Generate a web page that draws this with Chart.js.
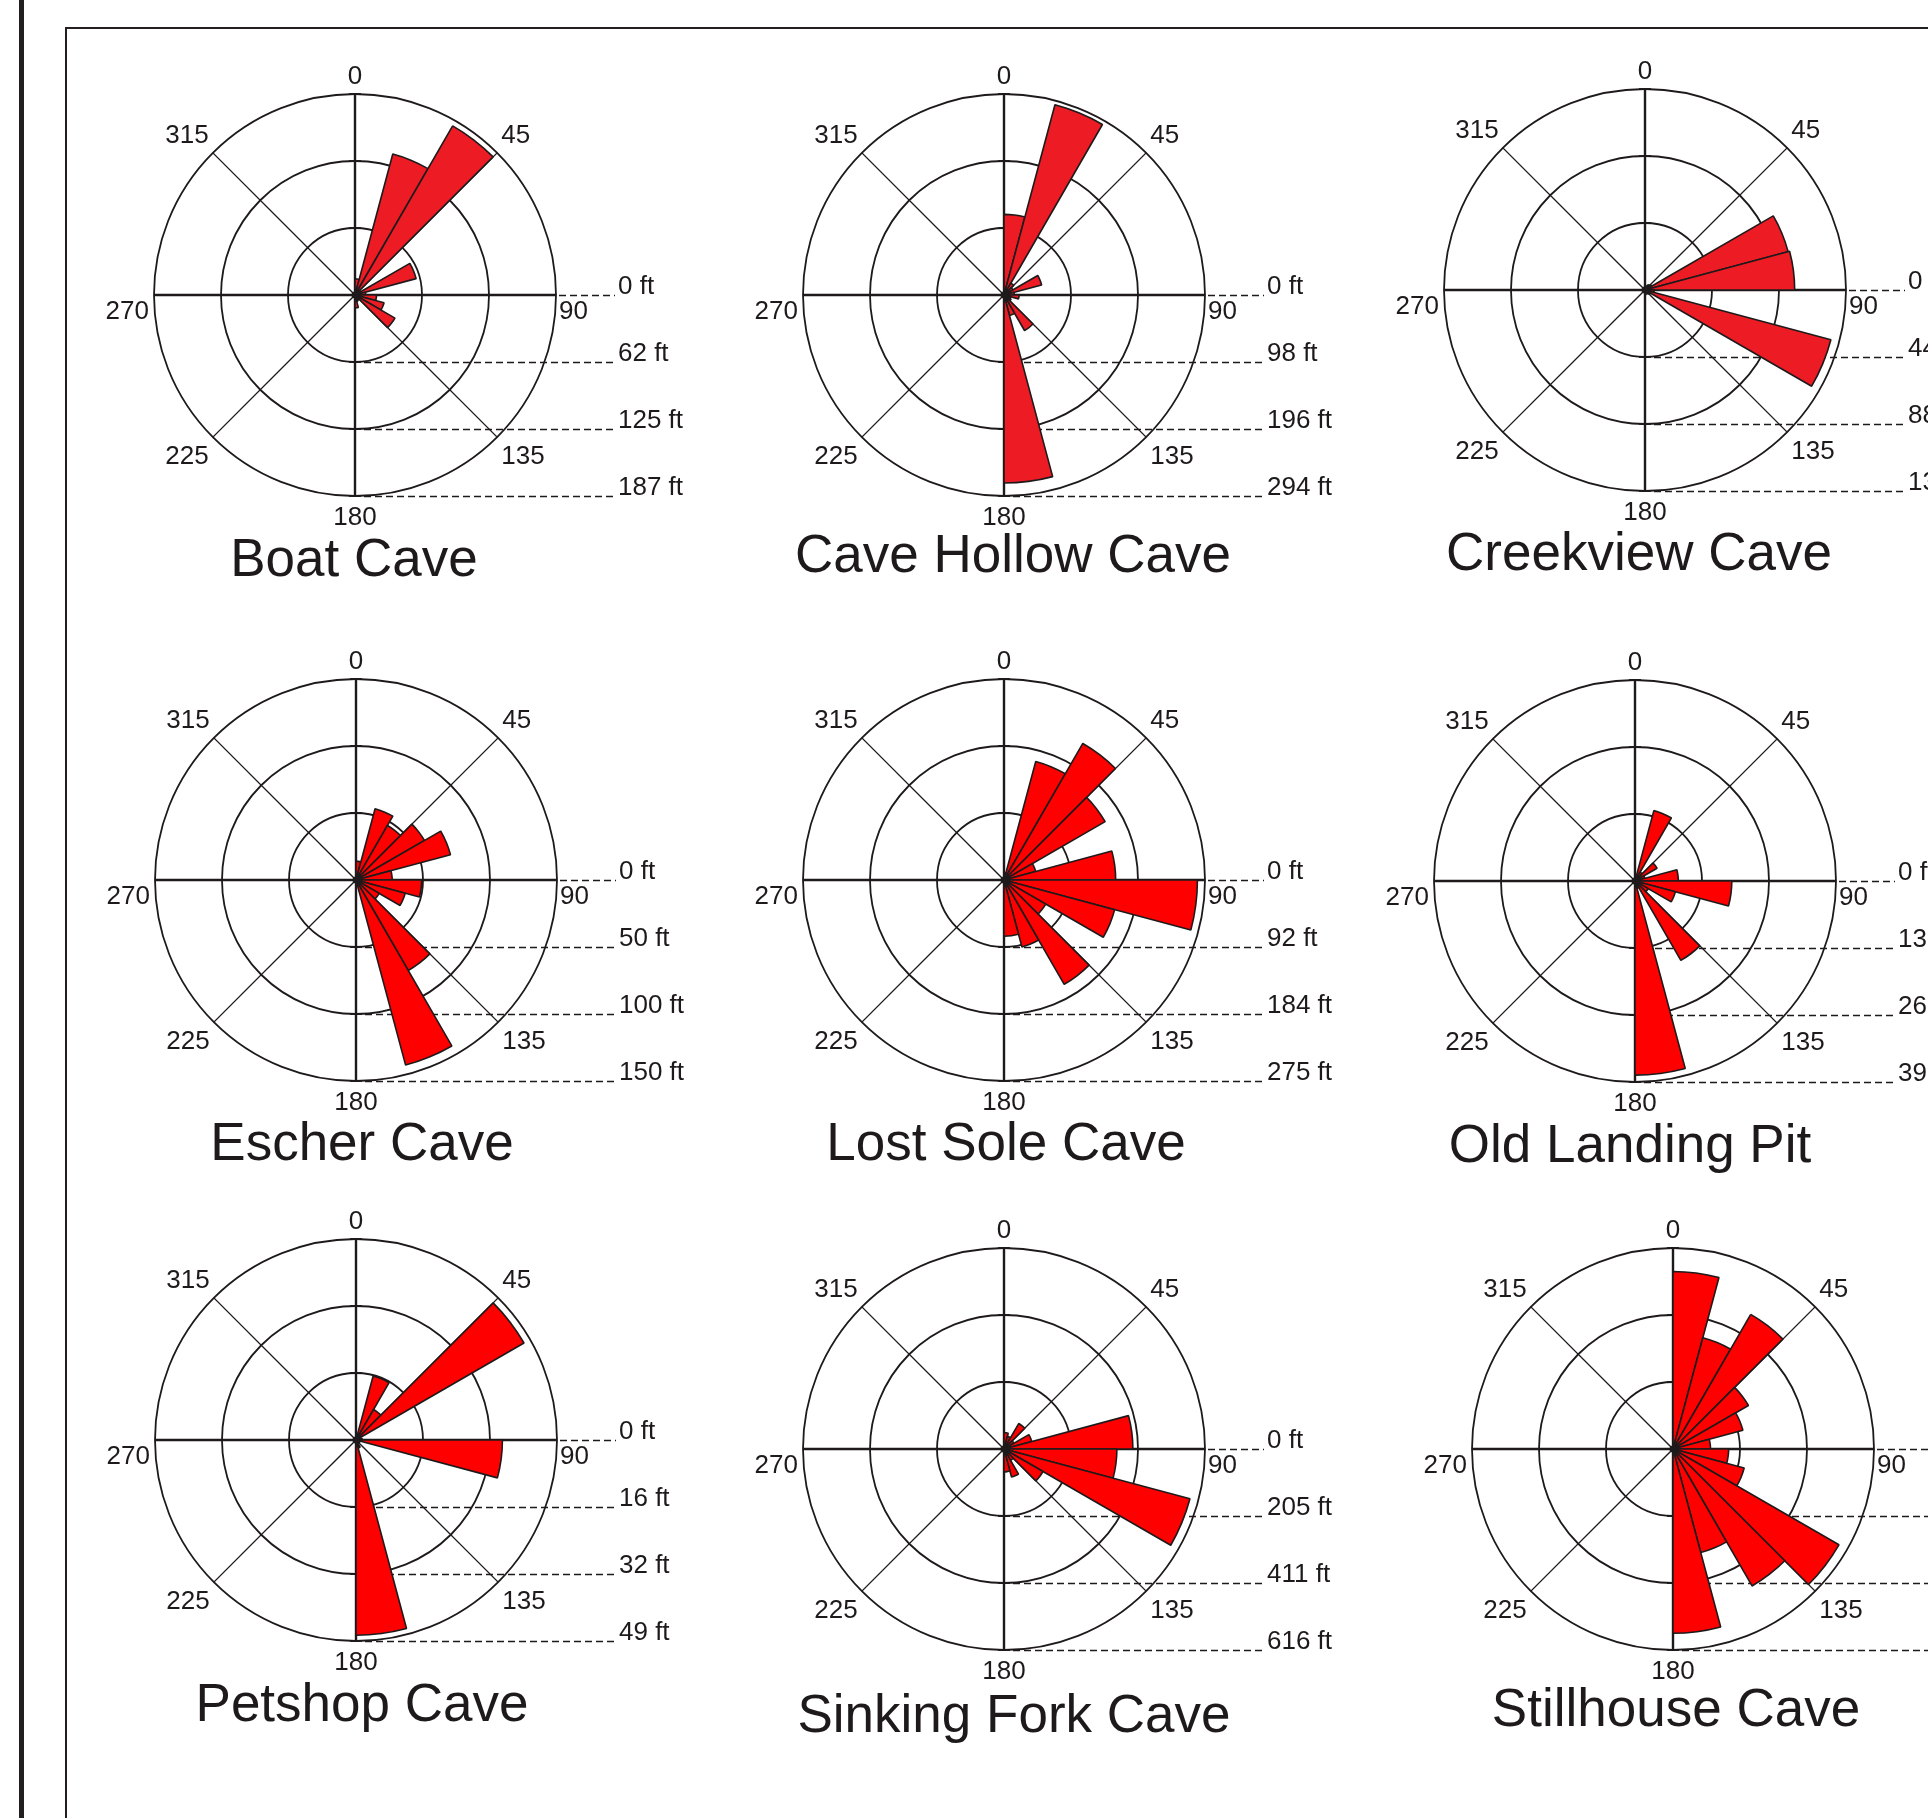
<!DOCTYPE html>
<html>
<head>
<meta charset="utf-8">
<title>Cave passage orientation rose diagrams</title>
<script src="https://cdn.jsdelivr.net/npm/chart.js@4.4.1/dist/chart.umd.min.js"></script>
<style>
  html, body { margin: 0; padding: 0; background: #ffffff; overflow: hidden; }
  #page { position: relative; width: 1928px; height: 1818px; overflow: hidden; background: #ffffff; }
  .rule { position: absolute; background: #231f20; }
  canvas { position: absolute; }
</style>
</head>
<body>
<div id="page">
  <div class="rule" style="left:19px; top:0; width:5px; height:1818px;"></div>
  <div class="rule" style="left:65px; top:27px; width:2px; height:1791px;"></div>
  <div class="rule" style="left:65px; top:27px; width:1863px; height:2px;"></div>
</div>
<script>
// ---- Data: passage length (ft) per 15-degree bearing class, 0-180 ----
const caveNames = [
  'Boat Cave', 'Cave Hollow Cave', 'Creekview Cave',
  'Escher Cave', 'Lost Sole Cave', 'Old Landing Pit',
  'Petshop Cave', 'Sinking Fork Cave', 'Stillhouse Cave'
];

// bearing classes around the full compass (passages are bidirectional, so only 0-180 carry length)
const bearingLabels = ['0', '15', '30', '45', '60', '75', '90', '105', '120', '135', '150', '165',
                       '180', '195', '210', '225', '240', '255', '270', '285', '300', '315', '330', '345'];

const boatCave       = [15, 136, 182, 6, 59, 10, 20, 28, 43, 5, 6, 12];
const caveHollowCave = [118, 288, 20, 15, 57, 15, 22, 10, 12, 60, 31, 275];
const creekviewCave  = [3, 2, 4, 5, 97, 98, 6, 126, 4, 3, 2, 3];
const escherCave     = [14, 55, 47, 59, 73, 27, 49, 38, 20, 78, 143, 4];
const lostSoleCave   = [10, 168, 216, 160, 45, 153, 265, 157, 66, 165, 95, 77];
const oldLandingPit  = [8, 143, 20, 50, 20, 85, 190, 82, 30, 180, 15, 381];
const petshopCave    = [1, 16, 8.5, 46.9, 1, 1.5, 35.4, 1, 1, 1, 2, 47.2];
const sinkingForkCave= [50, 40, 90, 35, 88, 395, 346, 590, 138, 40, 89, 70];
const stillhouseCave = [265, 172, 232, 130, 108, 56, 83, 110, 286, 236, 160, 275];

// outer ring of each diagram (ft); rings sit at thirds of it
const ringMax = [187.3, 294, 131.6, 150, 275.4, 394.5, 48.6, 616, 300];

const caveSeries = [boatCave, caveHollowCave, creekviewCave, escherCave, lostSoleCave,
                    oldLandingPit, petshopCave, sinkingForkCave, stillhouseCave];

// ---- Layout and styling ----
const INK = '#1e1a1b';
const panels = [
  { x: 355,  y: 295,  tx: -1, ty: 281, fill: '#ed1c24' },
  { x: 1004, y: 295,  tx: 9,  ty: 277, fill: '#ed1c24' },
  { x: 1645, y: 290,  tx: -6, ty: 280, fill: '#ed1c24' },
  { x: 356,  y: 880,  tx: 6,  ty: 280, fill: '#ff0000' },
  { x: 1004, y: 880,  tx: 2,  ty: 280, fill: '#ff0000' },
  { x: 1635, y: 881,  tx: -5, ty: 281, fill: '#ff0000' },
  { x: 356,  y: 1440, tx: 6,  ty: 281, fill: '#ff0000' },
  { x: 1004, y: 1449, tx: 10, ty: 283, fill: '#ff0000' },
  { x: 1673, y: 1449, tx: 3,  ty: 277, fill: '#ff0000' }
];

const CANVAS_W = 640, CANVAS_H = 560;
const ORIGIN_X = 300, ORIGIN_Y = 240, RADIUS = 201;
const LABEL_FONT = '26px "Liberation Sans", Arial, Helvetica, sans-serif';
const TITLE_FONT = '53px "Liberation Sans", Arial, Helvetica, sans-serif';
const CAP_H = 18.5;

// Dashed ring-distance leaders, compass bearings and the cave name
const roseDecor = {
  id: 'roseDecor',
  beforeDatasetsDraw(chart) {
    const s = chart.scales.r;
    const ctx = chart.ctx;
    const cx = s.xCenter, cy = s.yCenter, R = s.drawingArea;
    ctx.save();
    // short ticks where the rings cross the north-south axis
    ctx.strokeStyle = INK;
    ctx.lineWidth = 1.8;
    s.ticks.forEach((t, i) => {
      if (i === 0) return;
      const d = s.getDistanceFromCenterForValue(t.value);
      [-d, d].forEach((off) => {
        ctx.beginPath();
        ctx.moveTo(cx - 6, cy + off);
        ctx.lineTo(cx + 6, cy + off);
        ctx.stroke();
      });
    });
    ctx.lineWidth = 1.7;
    ctx.setLineDash([7, 4]);
    ctx.font = LABEL_FONT;
    ctx.fillStyle = INK;
    ctx.textAlign = 'left';
    ctx.textBaseline = 'alphabetic';
    s.ticks.forEach((t) => {
      const d = s.getDistanceFromCenterForValue(t.value);
      const y = Math.round(cy + d) + 0.5;
      const x0 = d === 0 ? cx + R + 3 : cx + 9;
      ctx.beginPath();
      ctx.moveTo(x0, y);
      ctx.lineTo(cx + 260, y);
      ctx.stroke();
      ctx.fillText(t.label, cx + 263, y - 1.5);
    });
    ctx.restore();
  },
  afterDatasetsDraw(chart) {
    // dark hub where all petals meet
    const s = chart.scales.r;
    const ctx = chart.ctx;
    ctx.save();
    ctx.fillStyle = INK;
    ctx.beginPath();
    ctx.arc(s.xCenter, s.yCenter, 3.5, 0, Math.PI * 2);
    ctx.fill();
    ctx.restore();
  },
  afterDraw(chart, args, opts) {
    const s = chart.scales.r;
    const ctx = chart.ctx;
    const cx = s.xCenter, cy = s.yCenter, R = s.drawingArea;
    ctx.save();
    ctx.font = LABEL_FONT;
    ctx.fillStyle = INK;
    ctx.textBaseline = 'alphabetic';
    chart.data.labels.forEach((lab, i) => {
      if (i % 3 !== 0) return;
      const cardinal = i % 6 === 0;
      const horizontal = i === 6 || i === 18;
      const extra = horizontal ? (i === 6 ? 3 : 5) : (cardinal ? 10 : 6);
      const p = s.getPointPosition(i, R + extra);
      const dx = p.x - cx, dy = p.y - cy;
      let align = 'center';
      if (dx > 1) align = 'left';
      else if (dx < -1) align = 'right';
      let by;
      if (Math.abs(dy) < 1) by = p.y + 24;
      else if (dy < 0) by = p.y - (Math.abs(dx) > 1 ? 6 : 0);
      else by = p.y + (Math.abs(dx) > 1 ? 22.6 : CAP_H);
      ctx.textAlign = align;
      ctx.fillText(lab, p.x, by);
    });
    ctx.font = TITLE_FONT;
    ctx.textAlign = 'center';
    ctx.fillText(opts.title, cx + opts.tx, cy + opts.ty);
    ctx.restore();
  }
};

const page = document.getElementById('page');

caveSeries.forEach((values, k) => {
  const pnl = panels[k];
  const canvas = document.createElement('canvas');
  canvas.width = CANVAS_W;
  canvas.height = CANVAS_H;
  canvas.style.width = CANVAS_W + 'px';
  canvas.style.height = CANVAS_H + 'px';
  canvas.style.left = (pnl.x - ORIGIN_X) + 'px';
  canvas.style.top = (pnl.y - ORIGIN_Y) + 'px';
  page.appendChild(canvas);

  const fullCircle = values.concat(new Array(bearingLabels.length - values.length).fill(0));

  new Chart(canvas, {
    type: 'polarArea',
    data: {
      labels: bearingLabels,
      datasets: [{
        data: fullCircle,
        backgroundColor: pnl.fill,
        borderColor: INK,
        borderWidth: 1.6
      }]
    },
    options: {
      responsive: false,
      maintainAspectRatio: false,
      devicePixelRatio: 1,
      animation: false,
      events: [],
      layout: {
        padding: {
          left: ORIGIN_X - RADIUS,
          top: ORIGIN_Y - RADIUS,
          right: CANVAS_W - ORIGIN_X - RADIUS,
          bottom: CANVAS_H - ORIGIN_Y - RADIUS
        }
      },
      plugins: {
        legend: { display: false },
        tooltip: { enabled: false },
        roseDecor: { title: caveNames[k], tx: pnl.tx, ty: pnl.ty }
      },
      scales: {
        r: {
          min: 0,
          max: ringMax[k],
          startAngle: 0,
          ticks: {
            display: false,
            count: 4,
            callback: (v) => Math.round(v) + ' ft'
          },
          grid: { circular: true, color: INK, lineWidth: 1.8 },
          angleLines: {
            display: true,
            color: INK,
            lineWidth: (c) => (c.index % 6 === 0 ? 2.4 : (c.index % 3 === 0 ? 1.4 : 0))
          },
          pointLabels: { display: false }
        }
      }
    },
    plugins: [roseDecor]
  });
});
</script>
</body>
</html>
